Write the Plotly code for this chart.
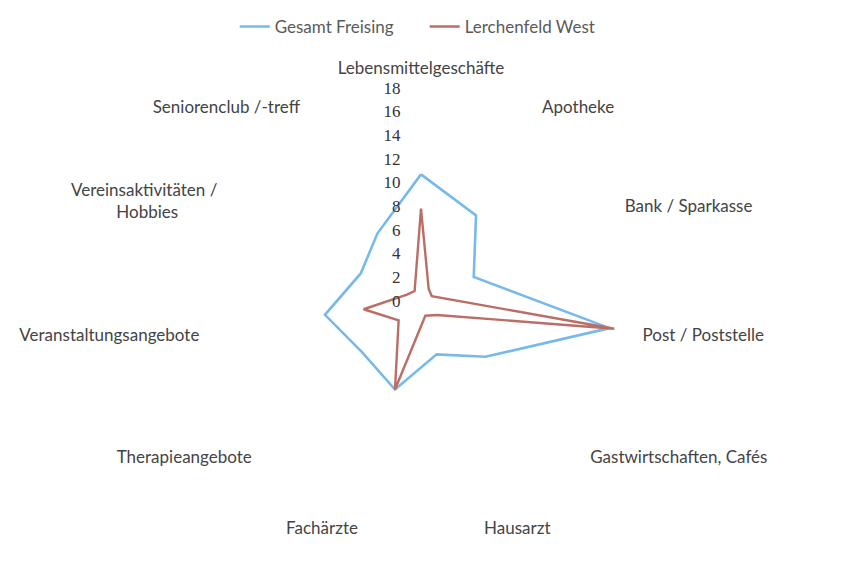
import plotly.graph_objects as go

categories = [
    "Lebensmittelgeschäfte",
    "Apotheke",
    "Bank / Sparkasse",
    "Post / Poststelle",
    "Gastwirtschaften, Cafés",
    "Hausarzt",
    "Fachärzte",
    "Therapieangebote",
    "Veranstaltungsangebote",
    "Vereinsaktivitäten /<br>Hobbies" + "\u00a0" * 9,
    "Seniorenclub /-treff",
]
gesamt_freising = [10.7, 8.6, 4.9, 16.1, 7.2, 4.7, 7.8, 6.6, 8.2, 5.6, 6.8]
lerchenfeld_west = [7.8, 1.2, 1.0, 16.5, 1.8, 1.3, 7.8, 2.5, 4.9, 1.3, 1.0]
radial_ticks = [0, 2, 4, 6, 8, 10, 12, 14, 16, 18]

W, H = 849, 563
cx, cy, R = 413, 293, 213

def closed(v):
    return list(v) + [v[0]]

fig = go.Figure()
fig.add_trace(go.Scatterpolar(
    r=closed(gesamt_freising), theta=closed(categories), mode="lines",
    name="Gesamt Freising", line=dict(color="#78b9ec", width=2.6),
))
fig.add_trace(go.Scatterpolar(
    r=closed(lerchenfeld_west), theta=closed(categories), mode="lines",
    name="Lerchenfeld West", line=dict(color="#bb6e66", width=2.4),
))

fig.update_layout(
    width=W, height=H,
    margin=dict(l=0, r=0, t=0, b=0),
    paper_bgcolor="white",
    plot_bgcolor="white",
    showlegend=True,
    legend=dict(
        orientation="h", x=0.267, xanchor="left", y=1 - 19 / H, yanchor="middle",
        font=dict(family="Lato", size=17, color="#5a5a5a"),
        entrywidth=145, entrywidthmode="pixels",
    ),
    polar=dict(
        domain=dict(x=[(cx - R) / W, (cx + R) / W], y=[(H - cy - R) / H, (H - cy + R) / H]),
        bgcolor="white",
        radialaxis=dict(
            range=[0, 18], tickvals=radial_ticks, angle=90, tickangle=90,
            showline=False, showgrid=False,
            ticks="outside", ticklen=14, tickcolor="rgba(0,0,0,0)",
            side="counterclockwise",
            tickfont=dict(family="Liberation Serif", size=17, color="#333333"),
        ),
        angularaxis=dict(
            direction="clockwise", rotation=90,
            showline=False, showgrid=False,
            ticks="outside", ticklen=7, tickcolor="rgba(0,0,0,0)",
            tickfont=dict(family="Lato", size=17, color="#444444"),
        ),
    ),
)

fig.write_html("out.html")
